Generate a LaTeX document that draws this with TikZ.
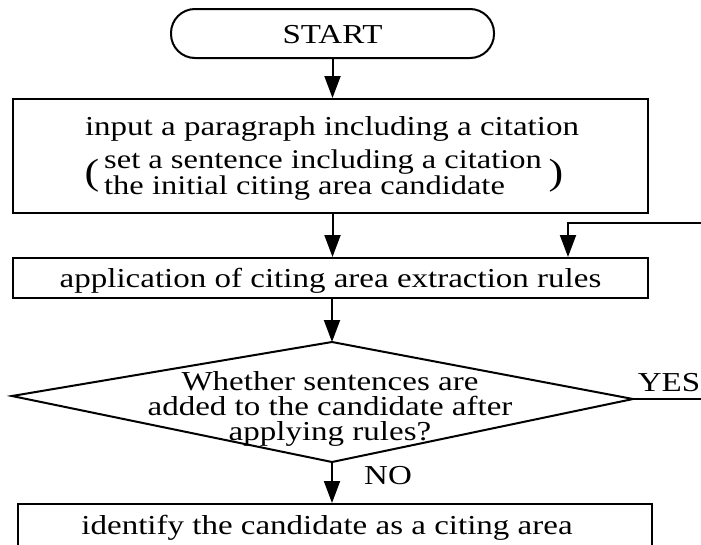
\documentclass[tikz,border=0pt]{standalone}
\usepackage{fontspec}
\setmainfont{Liberation Serif}
\usetikzlibrary{arrows.meta}
\begin{document}
\begin{tikzpicture}[x=1pt, y=-1pt,
    frame/.style={draw, line width=2pt, inner sep=0pt},
    txt/.style={font=\fontsize{33}{30}\selectfont, yscale=0.83, inner sep=0pt},
    flow/.style={line width=2pt, -{Triangle[length=22pt,width=16pt]}}]
    \useasboundingbox (0,0) rectangle (701,544);
    \clip (0,0) rectangle (701,544);

    % Start
    \node[frame, rounded corners=24pt, minimum width=323pt, minimum height=49pt] (start) at (332.5,33.5) {};
    \node[txt] (startlbl) at (332.5,35) {START};

    % Input paragraph
    \node[frame, minimum width=635pt, minimum height=114pt] (input) at (330.5,156) {};
    \node[txt] (inputlbl) at (332,129) {input a paragraph including a citation};
    \node[txt, anchor=west, align=left, font=\fontsize{32.5}{27}\selectfont] (initlbl) at (104,175) {set a sentence including a citation\\the initial citing area candidate};
    \node[txt, font=\fontsize{44}{44}\selectfont] (lpar) at (92,176) {(}; % brackets
    \node[txt, font=\fontsize{44}{44}\selectfont] (rpar) at (556,176) {)};

    % Extraction rules
    \node[frame, minimum width=635pt, minimum height=40pt] (rules) at (330.5,278) {};
    \node[txt] (ruleslbl) at (330.5,281) {application of citing area extraction rules};

    % Decision
    \coordinate (dtop) at (332,342);
    \coordinate (dright) at (633,399);
    \coordinate (dbot) at (332,462);
    \coordinate (dleft) at (12,396);
    \draw[line width=2pt] (dtop) -- (dright) -- (dbot) -- (dleft) -- cycle;
    \node[txt, align=center] (checklbl) at (330,409) {Whether sentences are\\added to the candidate after\\applying rules?};

    % Citing area
    \node[frame, minimum width=634pt, minimum height=60pt] (ident) at (335,534) {};
    \node[txt] (identlbl) at (327,528) {identify the candidate as a citing area};

    % Connectors
    \draw[flow] (start.south) -- (start.south |- input.north);
    \draw[flow] (input.south -| start) -- (rules.north -| start);
    \draw[flow] (rules.south -| dtop) -- (dtop);
    \draw[flow] (dbot) -- (dbot |- ident.north);
    \node[txt] (nolbl) at (388,476) {NO};

    % Loop back
    \coordinate (back) at (568,223);
    \draw[flow] (dright) -- (725,399) |- (back) -- (back |- rules.north);
    \node[txt] (yeslbl) at (669,383) {YES};
\end{tikzpicture}
\end{document}
